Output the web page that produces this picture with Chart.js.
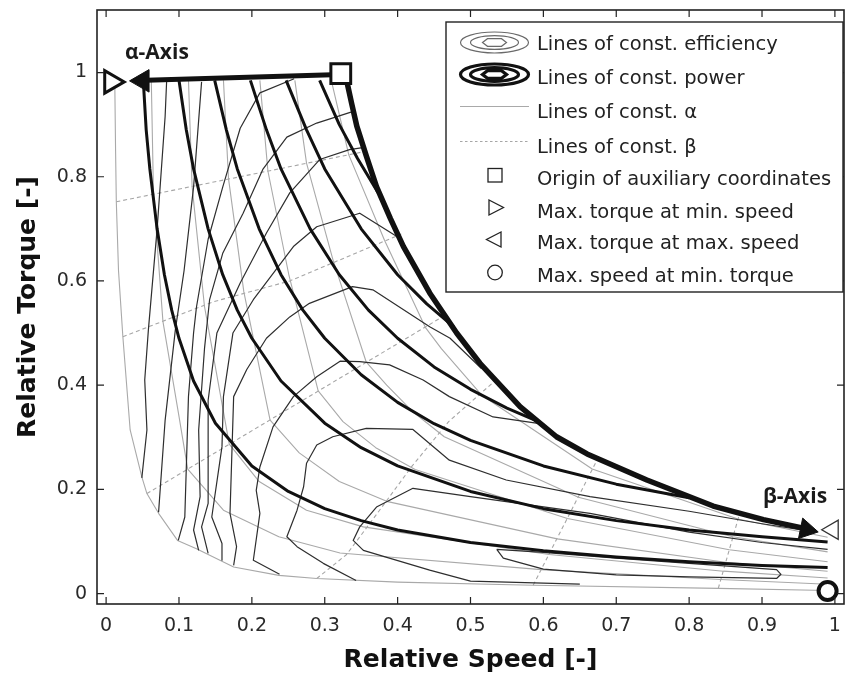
<!DOCTYPE html>
<html lang="en">
<head>
<meta charset="UTF-8">
<title>Relative Torque vs Relative Speed</title>
<script src="https://cdn.jsdelivr.net/npm/chart.js@4.4.1/dist/chart.umd.min.js"></script>
<style>
  html, body { margin: 0; padding: 0; background: #fff; }
</style>
</head>
<body>
<canvas id="map" width="846" height="681"></canvas>
<script>
// axis ticks
const xTicks = [0, 0.1, 0.2, 0.3, 0.4, 0.5, 0.6, 0.7, 0.8, 0.9, 1];
const xTickLabels = ['0', '0.1', '0.2', '0.3', '0.4', '0.5', '0.6', '0.7', '0.8', '0.9', '1'];
const yTicks = [0, 0.2, 0.4, 0.6, 0.8, 1];
const yTickLabels = ['0', '0.2', '0.4', '0.6', '0.8', '1'];

// lines of constant power (thick black)
const power1 = [[0.051,0.985],[0.055,0.89],[0.06,0.815],[0.07,0.70],[0.08,0.612],[0.09,0.544],[0.1,0.49],[0.12,0.408],[0.15,0.327],[0.2,0.245],[0.25,0.196],[0.3,0.163],[0.35,0.14],[0.4,0.122],[0.5,0.098],[0.6,0.082],[0.7,0.07],[0.8,0.061],[0.9,0.054],[0.99,0.05]];
const power2 = [[0.1,0.985],[0.11,0.89],[0.12,0.815],[0.14,0.70],[0.16,0.612],[0.18,0.544],[0.2,0.49],[0.24,0.408],[0.3,0.327],[0.35,0.28],[0.4,0.245],[0.5,0.196],[0.6,0.163],[0.7,0.14],[0.8,0.122],[0.9,0.109],[0.99,0.099]];
const power3 = [[0.149,0.985],[0.165,0.89],[0.18,0.815],[0.21,0.70],[0.24,0.612],[0.27,0.544],[0.3,0.49],[0.35,0.42],[0.4,0.367],[0.45,0.326],[0.5,0.294],[0.6,0.245],[0.7,0.21],[0.8,0.184]];
const power4 = [[0.198,0.985],[0.22,0.89],[0.24,0.815],[0.28,0.70],[0.32,0.612],[0.36,0.544],[0.4,0.49],[0.45,0.435],[0.5,0.392],[0.55,0.356],[0.59,0.332]];
const power5 = [[0.247,0.985],[0.275,0.89],[0.3,0.815],[0.35,0.70],[0.4,0.612],[0.44,0.556],[0.477,0.512]];
const power6 = [[0.293,0.985],[0.32,0.9],[0.345,0.835],[0.373,0.77]];

// max torque envelope (beta axis) and the alpha axis
const boundary = [[0.33,0.985],[0.337,0.94],[0.344,0.897],[0.357,0.84],[0.371,0.781],[0.39,0.72],[0.408,0.666],[0.444,0.577],[0.481,0.5],[0.513,0.442],[0.568,0.359],[0.618,0.301],[0.66,0.268],[0.742,0.218],[0.833,0.168],[0.902,0.142],[0.955,0.126]];
const alphaAxis = [[0.322,0.996],[0.055,0.985]];

// lines of constant alpha (thin grey)
const alpha1 = [[0.309,0.985],[0.333,0.842],[0.382,0.678],[0.438,0.511],[0.46,0.47],[0.485,0.43],[0.516,0.38],[0.667,0.239],[0.867,0.143],[0.99,0.108]];
const alpha2 = [[0.259,0.985],[0.275,0.826],[0.311,0.642],[0.357,0.444],[0.385,0.4],[0.42,0.35],[0.464,0.301],[0.648,0.185],[0.86,0.109],[0.99,0.08]];
const alpha3 = [[0.211,0.985],[0.222,0.811],[0.251,0.61],[0.291,0.389],[0.325,0.33],[0.37,0.28],[0.424,0.238],[0.633,0.144],[0.855,0.084],[0.99,0.061]];
const alpha4 = [[0.161,0.985],[0.168,0.796],[0.189,0.579],[0.225,0.333],[0.265,0.27],[0.32,0.215],[0.385,0.177],[0.619,0.105],[0.85,0.06],[0.99,0.043]];
const alpha5 = [[0.113,0.985],[0.118,0.781],[0.135,0.551],[0.169,0.287],[0.21,0.215],[0.275,0.16],[0.353,0.128],[0.608,0.075],[0.847,0.043],[0.99,0.03]];
const alpha6 = [[0.062,0.985],[0.065,0.767],[0.078,0.522],[0.1,0.34],[0.112,0.239],[0.161,0.16],[0.237,0.109],[0.321,0.078],[0.597,0.046],[0.843,0.027],[0.99,0.018]];
const alpha7 = [[0.012,0.97],[0.013,0.85],[0.014,0.752],[0.017,0.62],[0.023,0.493],[0.033,0.314],[0.049,0.224],[0.056,0.192],[0.072,0.154],[0.098,0.102],[0.124,0.086],[0.175,0.051],[0.237,0.035],[0.289,0.029],[0.4,0.022],[0.586,0.016],[0.84,0.01],[0.99,0.006]];

// lines of constant beta (grey dashed)
const beta1 = [[0.014,0.752],[0.35,0.847]];
const beta2 = [[0.023,0.493],[0.147,0.56],[0.252,0.6],[0.405,0.69]];
const beta3 = [[0.056,0.192],[0.466,0.535]];
const beta4 = [[0.289,0.029],[0.33,0.075],[0.37,0.15],[0.42,0.245],[0.47,0.33],[0.535,0.41]];
const beta5 = [[0.586,0.016],[0.675,0.26]];
const beta6 = [[0.84,0.01],[0.87,0.157]];

// lines of constant efficiency (thin dark)
const eff1 = [[0.083,0.982],[0.081,0.916],[0.07,0.7],[0.058,0.506],[0.053,0.41],[0.056,0.314],[0.049,0.222]];
const eff2 = [[0.131,0.982],[0.12,0.78],[0.107,0.62],[0.095,0.506],[0.081,0.333],[0.072,0.156]];
const eff3 = [[0.258,0.988],[0.211,0.961],[0.184,0.893],[0.16,0.78],[0.14,0.68],[0.124,0.55],[0.12,0.5],[0.113,0.378],[0.108,0.147],[0.099,0.102]];
const eff4 = [[0.336,0.924],[0.289,0.903],[0.248,0.876],[0.215,0.814],[0.188,0.73],[0.16,0.653],[0.142,0.564],[0.135,0.47],[0.127,0.314],[0.129,0.186],[0.12,0.122],[0.127,0.083]];
const eff5 = [[0.352,0.856],[0.334,0.852],[0.293,0.833],[0.252,0.769],[0.22,0.692],[0.184,0.596],[0.152,0.5],[0.14,0.371],[0.14,0.173],[0.131,0.128],[0.14,0.077]];
const eff6 = [[0.405,0.68],[0.348,0.73],[0.289,0.704],[0.257,0.666],[0.202,0.564],[0.174,0.5],[0.161,0.378],[0.159,0.282],[0.145,0.147],[0.159,0.096],[0.159,0.064]];
const eff7 = [[0.515,0.432],[0.472,0.49],[0.444,0.512],[0.366,0.583],[0.338,0.589],[0.279,0.557],[0.252,0.531],[0.22,0.49],[0.193,0.43],[0.175,0.378],[0.17,0.154],[0.179,0.09],[0.175,0.054]];
const eff8 = [[0.595,0.326],[0.531,0.339],[0.471,0.378],[0.435,0.41],[0.389,0.439],[0.348,0.445],[0.321,0.446],[0.289,0.416],[0.257,0.378],[0.229,0.32],[0.211,0.243],[0.206,0.198],[0.211,0.154],[0.202,0.064],[0.238,0.037]];
const eff9 = [[0.97,0.119],[0.9,0.134],[0.8,0.158],[0.664,0.186],[0.549,0.218],[0.471,0.256],[0.421,0.315],[0.357,0.317],[0.311,0.301],[0.289,0.285],[0.275,0.25],[0.271,0.205],[0.262,0.16],[0.248,0.109],[0.262,0.09],[0.298,0.058],[0.343,0.025]];
const eff10 = [[0.99,0.085],[0.9,0.098],[0.8,0.118],[0.664,0.154],[0.5,0.186],[0.421,0.202],[0.371,0.166],[0.348,0.128],[0.339,0.102],[0.353,0.083],[0.444,0.045],[0.5,0.024],[0.65,0.018]];
const eff11 = [[0.536,0.085],[0.6,0.079],[0.7,0.068],[0.8,0.058],[0.92,0.046],[0.926,0.037],[0.92,0.029],[0.8,0.032],[0.7,0.036],[0.6,0.047],[0.545,0.068],[0.536,0.085]];

// special points
const originPt = [0.322, 0.998];
const minSpeedPt = [0.007, 0.982];
const maxSpeedPt = [0.997, 0.1225];
const minTorquePt = [0.99, 0.005];
const alphaHead = [0.05, 0.984];
const betaHead = [0.961, 0.123];

const pts = a => a.map(p => ({ x: p[0], y: p[1] }));

function line(data, color, width, dash, order) {
    return {
        data: pts(data),
        showLine: true,
        borderColor: color,
        borderWidth: width,
        borderDash: dash || [],
        borderCapStyle: 'butt',
        borderJoinStyle: 'round',
        pointRadius: 0,
        pointHoverRadius: 0,
        tension: 0,
        fill: false,
        order: order
    };
}

function marker(p, style, radius, rotation, bg, borderColor, borderWidth) {
    return {
        data: pts([p]),
        showLine: false,
        pointStyle: style,
        pointRadius: radius,
        pointHoverRadius: radius,
        rotation: rotation,
        backgroundColor: bg,
        borderColor: borderColor,
        borderWidth: borderWidth,
        clip: false,
        order: 0
    };
}

const greyA = '#a9a9a9';
const greyB = '#a6a6a6';
const effColor = '#2e2e2e';
const ink = '#111111';

const datasets = [
    marker(originPt, 'rect', 14, 0, '#fff', ink, 3),
    marker(minSpeedPt, 'triangle', 13, 90, '#fff', ink, 3),
    marker(maxSpeedPt, 'triangle', 11, -90, '#fff', '#333', 1.3),
    marker(minTorquePt, 'circle', 9, 0, '#fff', ink, 4),
    marker(alphaHead, 'triangle', 13, -90, ink, ink, 1),
    marker(betaHead, 'triangle', 12, 101.7, ink, ink, 1),
    line(boundary, ink, 5.5, null, 1),
    line(alphaAxis, ink, 5, null, 1)
];
[power1, power2, power3, power4, power5, power6].forEach(p => datasets.push(line(p, ink, 3, null, 2)));
[eff1, eff2, eff3, eff4, eff5, eff6, eff7, eff8, eff9, eff10, eff11].forEach(e => datasets.push(line(e, effColor, 1.2, null, 3)));
[alpha1, alpha2, alpha3, alpha4, alpha5, alpha6, alpha7].forEach(a => datasets.push(line(a, greyA, 1.1, null, 4)));
[beta1, beta2, beta3, beta4, beta5, beta6].forEach(b => datasets.push(line(b, greyB, 1.1, [4, 3], 5)));

// frame with inward ticks, legend and axis captions
const decorPlugin = {
    id: 'decor',
    afterDatasetsDraw(chart) {
        const { ctx, chartArea: a, scales: { x, y } } = chart;
        ctx.save();

        ctx.strokeStyle = '#222';
        ctx.lineWidth = 1.6;
        ctx.strokeRect(a.left, a.top, a.right - a.left, a.bottom - a.top);
        ctx.lineWidth = 1.2;
        ctx.beginPath();
        xTicks.forEach(v => {
            const px = x.getPixelForValue(v);
            ctx.moveTo(px, a.bottom); ctx.lineTo(px, a.bottom - 7);
            ctx.moveTo(px, a.top); ctx.lineTo(px, a.top + 7);
        });
        yTicks.forEach(v => {
            const py = y.getPixelForValue(v);
            ctx.moveTo(a.left, py); ctx.lineTo(a.left + 7, py);
            ctx.moveTo(a.right, py); ctx.lineTo(a.right - 7, py);
        });
        ctx.stroke();

        // axis captions
        ctx.fillStyle = '#1a1a1a';
        ctx.font = 'bold 21px "Open Sans"';
        ctx.textBaseline = 'alphabetic';
        ctx.fillText('α-Axis', 125, 59);
        ctx.fillText('β-Axis', 763, 503);

        // legend box
        const L = 446, T = 22, R = 843, B = 292;
        ctx.fillStyle = '#fff';
        ctx.fillRect(L, T, R - L, B - T);
        ctx.strokeStyle = '#222';
        ctx.lineWidth = 1.4;
        ctx.strokeRect(L, T, R - L, B - T);

        const cx = 494.5;
        function rings(cy, color, w) {
            ctx.strokeStyle = color;
            ctx.lineWidth = w;
            ctx.beginPath(); ctx.ellipse(cx, cy, 34, 10.5, 0, 0, Math.PI * 2); ctx.stroke();
            ctx.beginPath(); ctx.ellipse(cx, cy, 24, 6.8, 0, 0, Math.PI * 2); ctx.stroke();
            ctx.beginPath();
            ctx.moveTo(cx - 12, cy); ctx.lineTo(cx - 7, cy - 3.8); ctx.lineTo(cx + 7, cy - 3.8);
            ctx.lineTo(cx + 12, cy); ctx.lineTo(cx + 7, cy + 3.8); ctx.lineTo(cx - 7, cy + 3.8);
            ctx.closePath(); ctx.stroke();
        }
        rings(42.5, '#6a6a6a', 1.2);
        rings(74.5, '#111', 3.2);

        ctx.strokeStyle = greyA; ctx.lineWidth = 1.1;
        ctx.beginPath(); ctx.moveTo(460, 106.5); ctx.lineTo(529, 106.5); ctx.stroke();
        ctx.strokeStyle = greyB; ctx.setLineDash([2.5, 2.5]);
        ctx.beginPath(); ctx.moveTo(460, 141.5); ctx.lineTo(529, 141.5); ctx.stroke();
        ctx.setLineDash([]);

        ctx.strokeStyle = '#222'; ctx.lineWidth = 1.3;
        ctx.strokeRect(488, 168.5, 14, 13.5);
        ctx.beginPath(); ctx.moveTo(489, 200); ctx.lineTo(503.5, 207.5); ctx.lineTo(489, 215); ctx.closePath(); ctx.stroke();
        ctx.beginPath(); ctx.moveTo(501, 232); ctx.lineTo(486.5, 239.5); ctx.lineTo(501, 247); ctx.closePath(); ctx.stroke();
        ctx.beginPath(); ctx.arc(495, 272.5, 7.3, 0, Math.PI * 2); ctx.stroke();

        ctx.fillStyle = '#222';
        ctx.font = '19.5px "DejaVu Sans"';
        const rows = [
            ['Lines of const. efficiency', 50],
            ['Lines of const. power', 83.5],
            ['Lines of const. α', 117.5],
            ['Lines of const. β', 152.5],
            ['Origin of auxiliary coordinates', 185],
            ['Max. torque at min. speed', 218],
            ['Max. torque at max. speed', 248.5],
            ['Max. speed at min. torque', 281.5]
        ];
        rows.forEach(r => ctx.fillText(r[0], 537, r[1]));

        ctx.restore();
    }
};

new Chart(document.getElementById('map'), {
    type: 'scatter',
    data: { datasets: datasets },
    options: {
        responsive: false,
        animation: false,
        events: [],
        layout: { autoPadding: false, padding: { top: 10, right: 2, left: 0, bottom: 0 } },
        plugins: { legend: { display: false }, tooltip: { enabled: false } },
        scales: {
            x: {
                type: 'linear',
                min: -0.0125,
                max: 1.0125,
                grid: { display: false, drawTicks: false },
                border: { display: false },
                afterBuildTicks: s => { s.ticks = xTicks.map(v => ({ value: v })); },
                afterFit: s => { s.height = 77; s.paddingLeft = 0; s.paddingRight = 0; },
                ticks: {
                    includeBounds: false,
                    autoSkip: false,
                    maxRotation: 0,
                    padding: 11,
                    color: '#2a2a2a',
                    font: { family: 'DejaVu Sans', size: 19 },
                    callback: v => xTickLabels[xTicks.indexOf(v)]
                },
                title: {
                    display: true,
                    text: 'Relative Speed [-]',
                    color: '#111',
                    font: { family: 'DejaVu Sans', size: 25, weight: 'bold' },
                    padding: { top: 0, bottom: 6 }
                }
            },
            y: {
                type: 'linear',
                min: -0.02,
                max: 1.12,
                grid: { display: false, drawTicks: false },
                border: { display: false },
                afterBuildTicks: s => { s.ticks = yTicks.map(v => ({ value: v })); },
                afterFit: s => { s.width = 97; s.paddingTop = 0; s.paddingBottom = 0; },
                ticks: {
                    includeBounds: false,
                    autoSkip: false,
                    padding: 10,
                    color: '#2a2a2a',
                    font: { family: 'DejaVu Sans', size: 19 },
                    callback: v => yTickLabels[yTicks.indexOf(v)]
                },
                title: {
                    display: true,
                    text: 'Relative Torque [-]',
                    color: '#111',
                    font: { family: 'DejaVu Sans', size: 25, weight: 'bold' },
                    padding: { top: 13, bottom: 0 }
                }
            }
        }
    },
    plugins: [decorPlugin]
});
</script>
</body>
</html>
